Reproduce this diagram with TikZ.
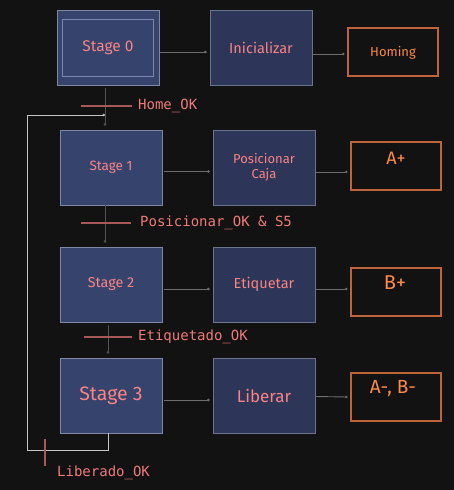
\documentclass[tikz,border=0pt]{standalone}
\usepackage{fontspec}
\newfontfamily\hand{Fira Sans}
\newfontfamily\monof{DejaVu Sans Mono}
\usetikzlibrary{arrows.meta}
\definecolor{bg}{HTML}{121212}
\definecolor{stagefill}{HTML}{36436D}
\definecolor{actfill}{HTML}{2D3558}
\definecolor{stageline}{HTML}{7F87A6}
\definecolor{innerline}{HTML}{7C87B0}
\definecolor{orangeline}{HTML}{BF633A}
\definecolor{orangetext}{HTML}{FF8A45}
\definecolor{pinktext}{HTML}{F88484}
\definecolor{lbltext}{HTML}{F07A7A}
\definecolor{tickcol}{HTML}{A85858}
\definecolor{conn}{HTML}{6E6E6E}
\definecolor{loopcol}{HTML}{C4C4C4}
\tikzset{
  stagebox/.style={draw=stageline, fill=stagefill, line width=0.8pt, minimum width=102pt, minimum height=75pt, inner sep=0pt, text=pinktext, font=\hand, align=center},
  actbox/.style={draw=stageline!85!black, fill=actfill, line width=0.8pt, minimum width=102pt, minimum height=75pt, inner sep=0pt, text=pinktext, font=\hand, align=center},
  outbox/.style={draw=orangeline, line width=1.1pt, minimum width=90pt, minimum height=48pt, inner sep=0pt},
  outtext/.style={text=orangetext, font=\hand\fontsize{13}{15}\selectfont, inner sep=0pt},
  ctext/.style={text=pinktext, inner sep=0pt},
  lbl/.style={text=lbltext, font=\monof\fontsize{14}{16}\selectfont, inner sep=0pt, anchor=west},
  tickline/.style={draw=tickcol, line width=1.2pt},
  connector/.style={draw=conn, line width=0.9pt, -{Circle[length=2.5pt]}},
  vline/.style={draw=conn!120, line width=1pt, -{Circle[length=2.5pt]}},
  loopline/.style={draw=loopcol, line width=1pt, -{Circle[length=2.5pt]}}
}
\begin{document}
\begin{tikzpicture}[x=1pt,y=-1pt]
\fill[bg] (0,0) rectangle (454,490);
\useasboundingbox (0,0) rectangle (454,490);

% output boxes first
\node[outbox] (h0) at (393,52) {};
\node[outbox] (h1) at (396,166) {};
\node[outbox] (h2) at (396,292) {};
\node[outbox] (h3) at (396,397) {};

% Stage 0
\node[stagebox] (s0) at (108,47.5) {};
\node[draw=innerline, line width=1pt, minimum width=91pt, minimum height=57pt, inner sep=0pt] (s0in) at (107.5,47.5) {};
\node[ctext, font=\hand\fontsize{15.5}{17}\selectfont] (s0t) at (108,48) {Stage 0};
\node[actbox, font=\hand\fontsize{14.5}{16}\selectfont] (i0) at (261,47.5) {Inicializar};
\node[outtext] (h0t) at (393,53) {Homing};

% Stage 1
\node[stagebox, font=\hand\fontsize{13.5}{15}\selectfont] (s1) at (111,167.5) {Stage 1};
\node[actbox, font=\hand\fontsize{13}{15}\selectfont] (i1) at (264,167.5) {Posicionar\\Caja};
\node[outtext, font=\hand\fontsize{18}{20}\selectfont] (h1t) at (396,158) {A+};

% Stage 2
\node[stagebox, font=\hand\fontsize{14.3}{16}\selectfont] (s2) at (111,284.5) {Stage 2};
\node[actbox, font=\hand\fontsize{14.5}{16}\selectfont] (i2) at (264,284.5) {Etiquetar};
\node[outtext, font=\hand\fontsize{20}{22}\selectfont] (h2t) at (395,283) {B+};

% Stage 3
\node[stagebox, font=\hand\fontsize{19.5}{21}\selectfont] (s3) at (111,395.5) {Stage 3};
\node[actbox, font=\hand\fontsize{17}{19}\selectfont] (i3) at (264,395.5) {Liberar};
\node[outtext, font=\hand\fontsize{19}{21}\selectfont] (h3t) at (393,389) {A-, B-};

% horizontal connectors
\draw[connector] ([xshift=1pt,yshift=-4.5pt]s0.east) -- ([xshift=-3pt,yshift=-4.5pt]i0.west);
\draw[connector] ([yshift=-6.5pt]i0.east) -- ([xshift=-3pt,yshift=-2pt]h0.west);
\draw[connector] ([xshift=2pt,yshift=-4pt]s1.east) -- ([xshift=-3pt,yshift=-4pt]i1.west);
\draw[connector] ([yshift=-4.5pt]i1.east) -- ([xshift=-3pt,yshift=-6pt]h1.west);
\draw[connector] ([xshift=2pt,yshift=-4.5pt]s2.east) -- ([xshift=-3pt,yshift=-4.5pt]i2.west);
\draw[connector] ([yshift=-4.5pt]i2.east) -- ([xshift=-3pt,yshift=3pt]h2.west);
\draw[connector] ([xshift=2pt,yshift=-4.5pt]s3.east) -- ([xshift=-3pt,yshift=-4.5pt]i3.west);
\draw[connector] ([yshift=-1pt]i3.east) -- ([xshift=-3pt]h3.west);

% vertical connectors
\draw[vline] ([xshift=-3pt,yshift=-3pt]s0.south) -- ([xshift=-6pt,yshift=4pt]s1.north);
\draw[vline] ([xshift=-6pt]s1.south) -- ([xshift=-6pt,yshift=4pt]s2.north);
\draw[vline] ([xshift=-3pt,yshift=-3pt]s2.south) -- ([xshift=-3pt,yshift=4pt]s3.north);

% loop back
\coordinate (j) at (105,115);
\draw[loopline] ([xshift=-3pt]s3.south) -- (108,450.5) -- (27,450.5) -- (27,115) -- (j);

% transition labels and ticks
\node[lbl] (t0) at (138,106) {Home\_OK};
\draw[tickline] ([xshift=-6pt]t0.west) -- ++(-51,0);
\node[lbl] (t1) at (140,223) {Posicionar\_OK \& S5};
\draw[tickline] ([xshift=-9pt]t1.west) -- ++(-50,0);
\node[lbl] (t2) at (138,337) {Etiquetado\_OK};
\draw[tickline] ([xshift=-6pt]t2.west) -- ++(-48,0);
\node[lbl] (t3) at (57,472.5) {Liberado\_OK};
\draw[tickline] (45,439) -- (45,466);
\end{tikzpicture}
\end{document}
